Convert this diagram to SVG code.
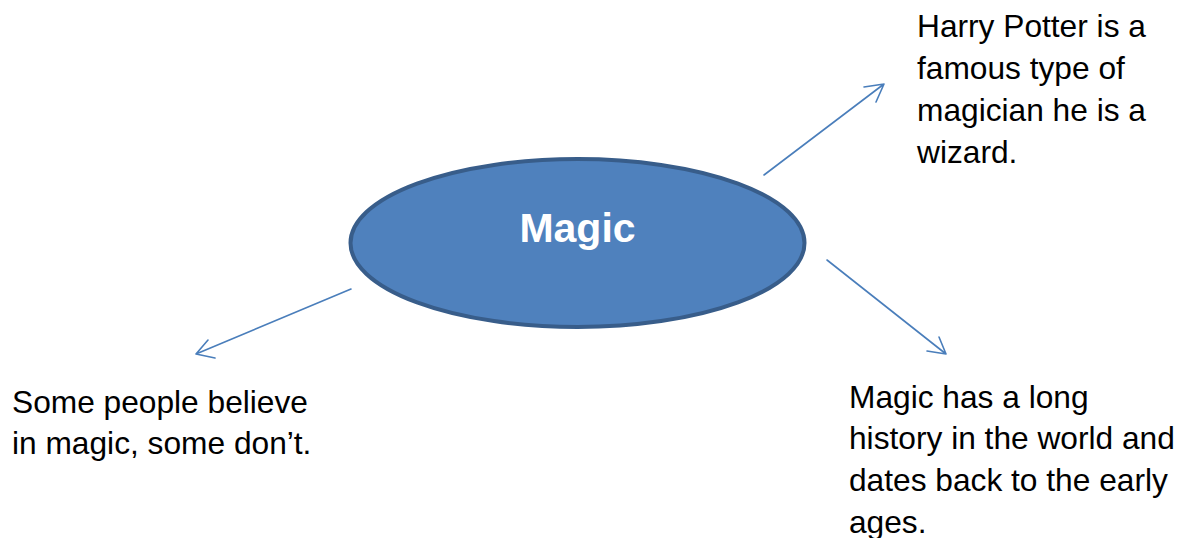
<svg xmlns="http://www.w3.org/2000/svg" width="1185" height="538" viewBox="0 0 1185 538">
<style>
.t{font-family:"Liberation Sans",Arial,sans-serif;font-size:31.7px;fill:#000}
.c{fill:none;stroke:#4a7ebb;stroke-width:1.6;stroke-linecap:round;stroke-linejoin:round}
</style>
<rect width="1185" height="538" fill="#fff"/>
<g id="connectors">
<path class="c" d="M764,175 L884,84 M864,87 L884,84 L876,102"/>
<path class="c" d="M827,260 L946,354 M927,351 L946,354 L939,337"/>
<path class="c" d="M351,289 L196,354 M208,340 L196,354 L215,358"/>
</g>
<g id="node-magic">
<ellipse cx="577.5" cy="243" rx="227" ry="84" fill="#4f81bd" stroke="#385d8a" stroke-width="4"/>
<text x="577.5" y="242" text-anchor="middle" font-family="Liberation Sans,Arial,sans-serif" font-weight="bold" font-size="41" fill="#fff">Magic</text>
</g>
<g id="node-harry">
<text class="t" x="917" y="37">Harry Potter is a</text>
<text class="t" x="917" y="79">famous type of</text>
<text class="t" x="917" y="121">magician he is a</text>
<text class="t" x="917" y="163">wizard.</text>
</g>
<g id="node-believe">
<text class="t" x="12" y="413">Some people believe</text>
<text class="t" x="12" y="454">in magic, some don’t.</text>
</g>
<g id="node-history">
<text class="t" x="849" y="408">Magic has a long</text>
<text class="t" x="849" y="449">history in the world and</text>
<text class="t" x="849" y="491">dates back to the early</text>
<text class="t" x="849" y="533">ages.</text>
</g>
</svg>
